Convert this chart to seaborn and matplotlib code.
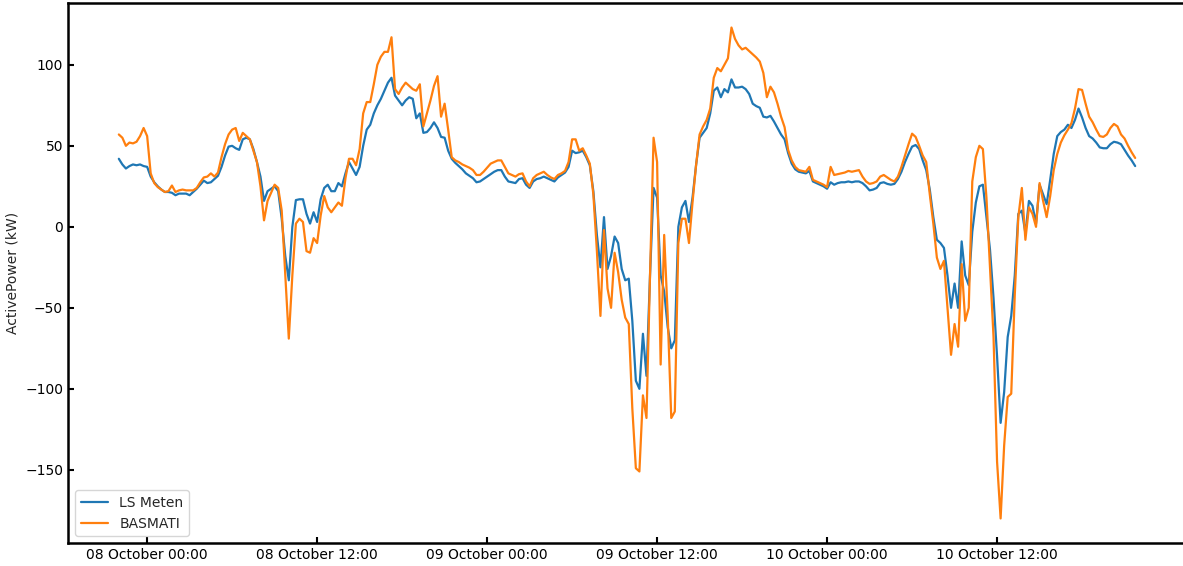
import numpy as np
import pandas as pd
import matplotlib.pyplot as plt
import matplotlib.dates as mdates
import seaborn as sns

# 15-minute samples, 07 Oct 22:00 -> 10 Oct 21:45
times = pd.date_range("2023-10-07 22:00", periods=288, freq="15min")
tick_times = pd.date_range("2023-10-08 00:00", periods=6, freq="12h")

# measured active power (kW)
ls_meten = [
    42, 38.5, 36, 37.5, 38.5, 38, 38.5, 37.5, 37, 31, 27.5, 25,
    23, 21.5, 21.5, 21, 19.5, 20.5, 20.5, 20.5, 19.5, 21.5, 23.5, 26,
    28.5, 27, 27.5, 29.5, 31.5, 37, 44, 49.5, 50, 48.5, 47.5, 54,
    55, 54, 48, 40, 31, 16, 22, 23.5, 25, 22, 5, -18,
    -33, 0, 16.5, 17, 17, 8, 2, 9, 3, 17, 24, 26,
    22, 22, 27, 25, 33, 40, 36, 32, 37, 50, 60, 63,
    70, 75, 79, 84, 89, 92, 81, 78, 75, 78, 80, 79,
    67, 70, 58, 58.5, 61, 64.5, 61, 55.5, 55, 47, 42, 39.5,
    37.5, 35.5, 33, 31.5, 30, 27.5, 28, 29.5, 31, 32.5, 34, 35,
    35, 31, 28, 27.5, 27, 29.5, 30, 26, 24, 28, 29.5, 30,
    31, 30, 29, 28, 30.5, 32, 33.5, 37, 47, 45.5, 46, 47,
    43, 38, 22, -5, -25, 6, -26, -18, -6, -10, -26, -33,
    -32, -58, -95, -100, -66, -92, -30, 24, 18, -30, -40, -62,
    -75, -70, 0, 12, 16, 3, 18, 38, 55, 58, 61, 70,
    84, 86, 80, 85, 83, 91, 86, 86, 86.5, 85, 82, 76,
    74.5, 73.5, 68, 67.5, 68.5, 65, 61, 57, 54, 45.5, 39, 35.5,
    34, 33.5, 33, 34.5, 28, 27, 26, 25, 23.5, 27.5, 26, 27,
    27.5, 27.5, 28, 27.5, 28, 28, 27, 25, 22.5, 23, 24, 27,
    27.5, 26.5, 26, 26.5, 29.5, 34, 40, 45, 49.5, 50.5, 48, 41,
    35, 23, 6, -8, -10, -13, -30, -50, -35, -50, -9, -30,
    -36, -3, 15, 25, 26, 6, -14, -44, -80, -121, -102, -68,
    -55, -30, 8, 10, -4, 16, 13, 2, 26, 20, 14, 29,
    45, 56, 58.5, 60, 63, 61, 66, 73, 67.5, 61, 56, 54.5,
    52, 49, 48.5, 48.5, 51, 52.5, 52, 51, 47.5, 44, 41, 37.5,
]

# simulated active power (kW)
basmati = [
    57, 55, 50, 52, 51.5, 52.5, 56, 61, 56, 33, 27, 24.5,
    23, 21.5, 22, 25.5, 21.5, 22.5, 23, 22.5, 22.5, 22.5, 24, 27.5,
    30.5, 31, 33, 31, 33.5, 43, 51, 57, 60, 61, 53, 58,
    56, 54, 47, 40, 25, 4, 16, 21, 26, 24, 10, -30,
    -69, -30, 2, 5, 3, -15, -16, -7, -10, 7, 19, 12,
    9, 12, 15, 13, 30, 42, 42, 38, 48, 70, 77, 77,
    88, 100, 105, 108, 108, 117, 85, 82, 86, 89, 87, 85,
    84, 88, 62, 70, 78, 87, 93, 68, 76, 60, 43, 41,
    40, 38.5, 37.5, 36.5, 35, 32, 32, 34, 36.5, 39, 40, 41,
    41, 37, 33, 32, 31, 32.5, 33, 28, 25, 30, 32, 33,
    34, 32, 30.5, 29.5, 32, 33, 34.5, 40, 54, 54, 47, 48.5,
    44, 39, 20, -15, -55, -2, -38, -50, -16, -28, -45, -56,
    -60, -112, -149, -151, -104, -118, -30, 55, 40, -85, -5, -55,
    -118, -114, -10, 5, 5, -10, 15, 38, 57, 62, 66, 73,
    92, 98, 96, 100, 104, 123, 116, 112, 109.5, 110.5, 108.5, 106.5,
    104.5, 102, 95, 80, 86.5, 83, 76, 68, 61.5, 47.5, 41, 37,
    35, 34.5, 34, 37, 29, 28, 27, 26, 24.5, 37, 32, 32.5,
    33, 33.5, 34.5, 34, 34.5, 35, 31, 28, 26.5, 27, 28, 31,
    32, 30.5, 29, 28, 31, 37, 44, 51, 57.5, 55.5, 50, 44,
    40, 20, 2, -19, -26, -21, -50, -79, -60, -74, -23, -58,
    -50, 28, 43, 50, 48, 18, -25, -68, -145, -180, -135, -105,
    -103, -42, 6, 24, -8, 12, 8, 0, 27, 16, 6, 19,
    35, 45, 52, 56.5, 60, 64, 73, 85, 84.5, 76, 68, 64.5,
    60, 56, 55.5, 57, 61, 63.5, 62, 57, 54.5, 50, 46, 42.5,
]

df = pd.DataFrame({"time": times, "LS Meten": ls_meten, "BASMATI": basmati})
df = df.melt(id_vars="time", var_name="source", value_name="ActivePower")

sns.set_style("ticks", {"xtick.direction": "in", "ytick.direction": "in"})

fig = plt.figure(figsize=(11.83, 5.66), dpi=100)
ax = fig.add_axes([68 / 1183, 1 - 543 / 566, 1118 / 1183, 540 / 566])

sns.lineplot(data=df, x="time", y="ActivePower", hue="source",
             palette=["#1f77b4", "#ff7f0e"], linewidth=1.6,
             errorbar=None, ax=ax)

# only the six 12-hourly ticks shown in the original
ax.set_xticks(tick_times)
ax.xaxis.set_major_formatter(mdates.DateFormatter("%d %B %H:%M"))
ax.set_xlabel("")
ax.set_ylabel("ActivePower (kW)", fontsize=10)
ax.tick_params(direction="in", width=1.5, length=4, colors="black", labelsize=10)
for spine in ax.spines.values():
    spine.set_linewidth(1.8)
    spine.set_color("black")

sns.move_legend(ax, "lower left", title=None, frameon=True, fontsize=10)

fig.savefig("out.png", dpi=100)
